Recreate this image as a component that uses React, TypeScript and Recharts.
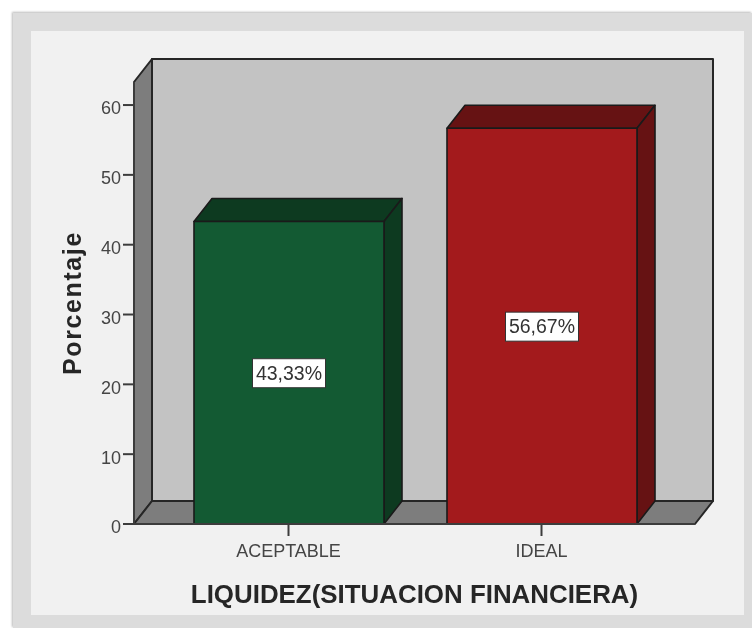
import { BarChart, Bar, Cell, XAxis, YAxis, LabelList, usePlotArea } from "recharts";

const categories = ["ACEPTABLE", "IDEAL"];
const percentages = [43.33, 56.67];
const percentLabels = ["43,33%", "56,67%"];
const yTicks = [0, 10, 20, 30, 40, 50, 60];
const yMax = 63.3;

// front, top/side faces of each bar
const frontColors = ["#135a33", "#a31a1c"];
const darkColors = ["#0d3a20", "#661213"];

const DX = 18;
const DY = 23;
const LINE = "#262626";
const AXIS = "#3c3c3c";
const TICK_TEXT = "#454545";

const data = categories.map((name, i) => ({
  name,
  value: percentages[i],
  text: percentLabels[i],
  dark: darkColors[i],
}));

function Walls() {
  const plot = usePlotArea();
  if (!plot) return null;
  const { x, y, width, height } = plot;
  const r = x + width;
  const b = y + height;
  return (
    <g stroke={LINE} strokeWidth={2} strokeLinejoin="round">
      <rect x={x + DX} y={y - DY} width={width} height={height} fill="#c3c3c3" />
      <polygon points={`${x},${y} ${x + DX},${y - DY} ${x + DX},${b - DY} ${x},${b}`} fill="#7d7d7d" />
      <polygon points={`${x},${b} ${x + DX},${b - DY} ${r + DX},${b - DY} ${r},${b}`} fill="#7d7d7d" />
    </g>
  );
}

function Bar3D(props: any) {
  const { x, y, width, height, fill, payload } = props;
  const r = x + width;
  const b = y + height;
  return (
    <g stroke="#1a1a1a" strokeWidth={1.6} strokeLinejoin="round">
      <polygon points={`${x},${y} ${x + DX},${y - DY} ${r + DX},${y - DY} ${r},${y}`} fill={payload.dark} />
      <polygon points={`${r},${y} ${r + DX},${y - DY} ${r + DX},${b - DY} ${r},${b}`} fill={payload.dark} />
      <rect x={x} y={y} width={width} height={height} fill={fill} />
    </g>
  );
}

function ValueBox(props: any) {
  const { x, y, width, height, value } = props;
  const cx = x + width / 2;
  const cy = y + height / 2;
  return (
    <g>
      <rect x={cx - 36.5} y={cy - 14} width={73} height={29} fill="#fff" stroke="#333" strokeWidth={1} />
      <text x={cx} y={cy + 7} textAnchor="middle" fontSize={19.5} fill="#333">
        {value}
      </text>
    </g>
  );
}

export default function App() {
  return (
    <div style={{ position: "absolute", left: 0, top: 0, width: 752, height: 628, background: "#fff", overflow: "hidden" }}>
      <div style={{ position: "absolute", left: 13, top: 13, width: 739, height: 615, background: "#dcdcdc", boxShadow: "-1px -1px 2px #bbb" }} />
      <div style={{ position: "absolute", left: 31, top: 31, width: 713, height: 584, background: "#f1f1f1" }} />
      <div style={{ position: "absolute", left: 0, top: 0, filter: "blur(0.7px)" }}>
        <BarChart
          width={752}
          height={628}
          data={data}
          margin={{ top: 82, right: 57, bottom: 0, left: 0 }}
          style={{ fontFamily: "'Liberation Sans', Arial, sans-serif" }}
        >
          <Walls />
          <XAxis
            dataKey="name"
            height={104}
            padding={{ left: 28, right: 27 }}
            stroke={AXIS}
            strokeWidth={2}
            tickSize={12}
            tick={{ fontSize: 18, fill: TICK_TEXT }}
            tickMargin={8}
            label={{ value: "LIQUIDEZ(SITUACION FINANCIERA)", position: "insideBottom", offset: 25, fontSize: 25.9, fontWeight: 700, fill: "#262626" }}
          />
          <YAxis
            width={134}
            domain={[0, yMax]}
            ticks={yTicks}
            stroke={AXIS}
            strokeWidth={2}
            tickSize={11}
            tickMargin={2}
            tick={{ fontSize: 18, fill: TICK_TEXT, dy: 3 }}
            label={{ value: "Porcentaje", angle: -90, position: "insideLeft", offset: 72, textAnchor: "middle", fontSize: 25, fontWeight: 700, letterSpacing: 1.6, fill: "#262626" }}
          />
          <Bar dataKey="value" barSize={190} shape={Bar3D} isAnimationActive={false}>
            {data.map((d, i) => (
              <Cell key={d.name} fill={frontColors[i]} />
            ))}
            <LabelList dataKey="text" content={ValueBox} />
          </Bar>
        </BarChart>
      </div>
    </div>
  );
}
